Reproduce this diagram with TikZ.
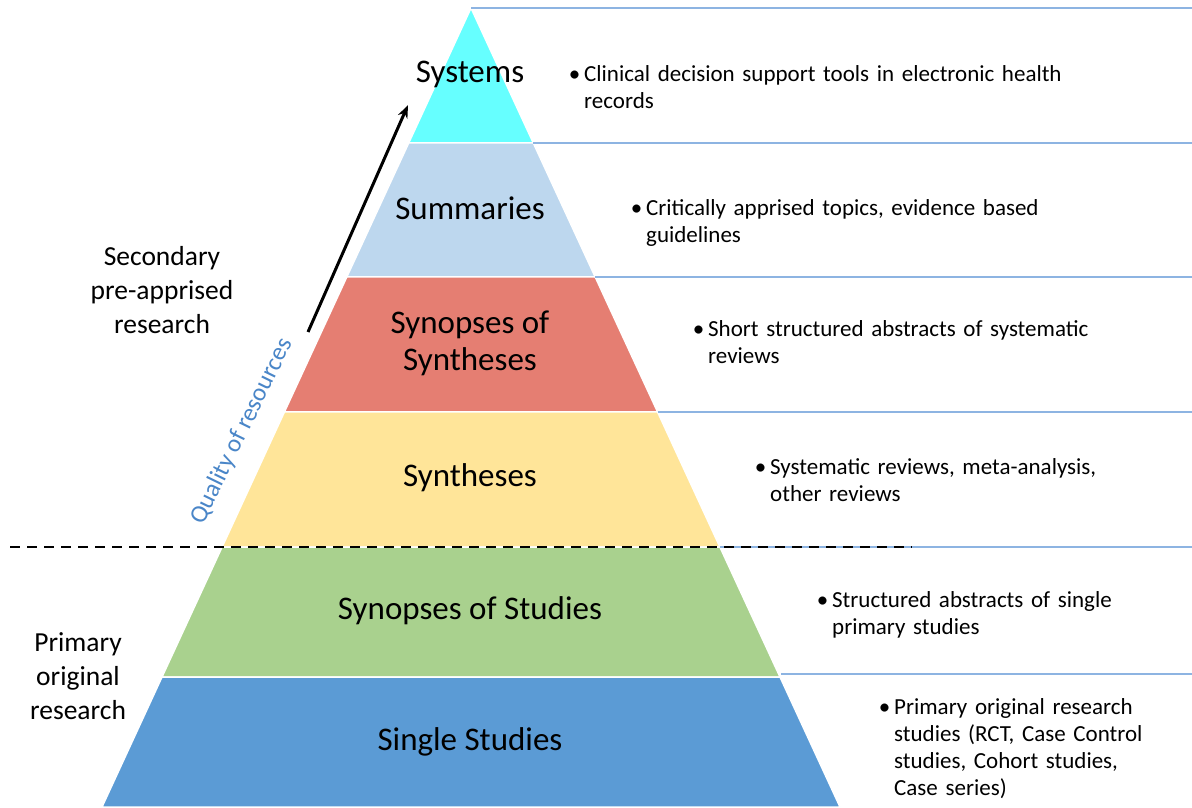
\documentclass[tikz,border=0pt]{standalone}
\usepackage{fontspec}
\setmainfont{Carlito}
\usetikzlibrary{arrows.meta}
\definecolor{cSys}{HTML}{66FFFF}
\definecolor{cSum}{HTML}{BDD7EE}
\definecolor{cSyn}{HTML}{E57E72}
\definecolor{cSth}{HTML}{FFE599}
\definecolor{cSst}{HTML}{A9D18E}
\definecolor{cSgl}{HTML}{5B9BD5}
\definecolor{rule}{HTML}{8DB4E2}
\definecolor{qual}{HTML}{4A86C8}
\tikzset{
  band/.style={draw=white, line width=1.5pt},
  tier/.style={font=\fontsize{33}{37}\selectfont, align=center, text=black},
  side/.style={font=\fontsize{27.5}{34}\selectfont, align=center, text=black},
  note/.style={font=\fontsize{23}{27}\selectfont, anchor=base west, text width=560pt, align=left, inner sep=0pt},
  sep/.style={draw=rule, line width=1.3pt},
}
\newcommand{\bul}{\llap{\textbullet\hspace{4pt}}}
\begin{document}
\begin{tikzpicture}[x=1pt,y=1pt]
\useasboundingbox[fill=white] (0,0) rectangle (1192,807);
% pyramid tiers, y measured upward from the bottom edge
\fill[cSys, band] (471,799) -- (533.3,664) -- (408.7,664) -- cycle;
\fill[cSum, band] (408.7,664) -- (533.3,664) -- (595.2,530) -- (346.8,530) -- cycle;
\fill[cSyn, band] (346.8,530) -- (595.2,530) -- (657.6,395) -- (284.4,395) -- cycle;
\fill[cSth, band] (284.4,395) -- (657.6,395) -- (719.9,260) -- (222.1,260) -- cycle;
\fill[cSst, band] (222.1,260) -- (719.9,260) -- (780,130) -- (162,130) -- cycle;
\fill[cSgl, band] (162,130) -- (780,130) -- (840,0) -- (102,0) -- cycle;
% separators to the right of the tiers
\coordinate (r0a) at (471,799); \coordinate (r0b) at (1192,799);
\coordinate (r1a) at (533.3,664); \coordinate (r1b) at (1192,664);
\coordinate (r2a) at (595.2,530); \coordinate (r2b) at (1192,530);
\coordinate (r3a) at (657.6,395); \coordinate (r3b) at (1192,395);
\coordinate (r4a) at (719.9,260); \coordinate (r4b) at (1192,260);
\coordinate (r5a) at (781,133); \coordinate (r5b) at (1192,133);
\draw[sep] (r0a) -- (r0b);
\draw[sep] (r1a) -- (r1b);
\draw[sep] (r2a) -- (r2b);
\draw[sep] (r3a) -- (r3b);
\draw[sep] (r4a) -- (r4b);
\draw[sep] (r5a) -- (r5b);
% primary / secondary divider
\coordinate (dA) at (10,260); \coordinate (dB) at (912,260);
\draw[black, line width=2pt, dash pattern=on 10pt off 7pt] (dA) -- (dB);
% tier labels
\node[tier] (tSys) at (470,733) {Systems};
\node[tier] (tSum) at (470,599) {Summaries};
\node[tier] (tSyn) at (470,464) {Synopses of\\Syntheses};
\node[tier] (tSth) at (470,329) {Syntheses};
\node[tier] (tSst) at (470,196) {Synopses of Studies};
\node[tier] (tSgl) at (470,65) {Single Studies};
% side labels
\node[side] (sec) at (162,517) {Secondary\\pre-apprised\\research};
\node[side] (pri) at (78,131) {Primary\\original\\research};
% quality arrow
\coordinate (qA) at (308,475); \coordinate (qB) at (408,702);
\draw[-{Stealth[length=13pt,width=10pt]}, line width=3pt] (qA) -- (qB);
\node[rotate=64, text=qual, font=\fontsize{25}{28}\selectfont] (qual) at (242,376) {Quality of resources};
% descriptions
\node[note] (n1) at (584,725) {\bul Clinical decision support tools in electronic health\\records};
\node[note] (n2) at (646,591) {\bul Critically apprised topics, evidence based\\guidelines};
\node[note] (n3) at (708,470) {\bul Short structured abstracts of systematic\\reviews};
\node[note] (n4) at (770,332) {\bul Systematic reviews, meta-analysis,\\other reviews};
\node[note] (n5) at (832,200) {\bul Structured abstracts of single\\primary studies};
\node[note] (n6) at (894,93) {\bul Primary original research\\studies (RCT, Case Control\\studies, Cohort studies,\\Case series)};
\end{tikzpicture}
\end{document}
